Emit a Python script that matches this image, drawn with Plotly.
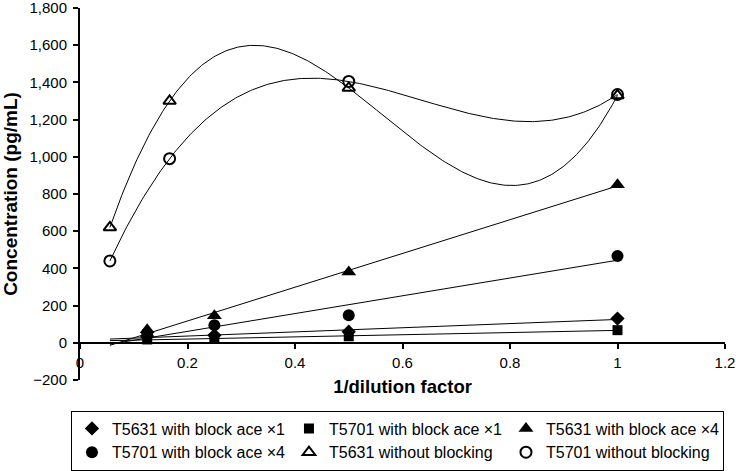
import numpy as np
import plotly.graph_objects as go

# ---- data ----
x_block = [0.125, 0.25, 0.5, 1.0]
t5631_x1 = [35, 40, 60, 130]
t5701_x1 = [18, 22, 35, 68]
t5631_x4 = [70, 145, 380, 850]
t5701_x4 = [50, 95, 148, 467]

x_free = [0.0556, 0.1667, 0.5, 1.0]
t5631_free = [620, 1300, 1370, 1330]
t5701_free = [440, 990, 1405, 1335]

y_ticks = [-200, 0, 200, 400, 600, 800, 1000, 1200, 1400, 1600, 1800]

names = ["T5631 with block ace \u00d71", "T5701 with block ace \u00d71",
         "T5631 with block ace \u00d74", "T5701 with block ace \u00d74",
         "T5631 without blocking", "T5701 without blocking"]

FONT = "Liberation Sans, Arial, sans-serif"
fig = go.Figure()

xmin = min(x_free)
# linear trendlines for blocked series
for ys in [t5631_x1, t5701_x1, t5631_x4, t5701_x4]:
    c = np.polyfit(x_block, ys, 1)
    xs = np.array([xmin, 1.0])
    fig.add_trace(go.Scatter(x=xs, y=np.polyval(c, xs), mode="lines",
                             line=dict(color="black", width=1), showlegend=False,
                             hoverinfo="skip"))
# cubic trendlines for unblocked series
for ys in [t5631_free, t5701_free]:
    c = np.polyfit(x_free, ys, 3)
    xs = np.linspace(xmin, 1.0, 300)
    fig.add_trace(go.Scatter(x=xs, y=np.polyval(c, xs), mode="lines",
                             line=dict(color="black", width=1), showlegend=False,
                             hoverinfo="skip"))

specs = [
    (x_block, t5631_x1, "diamond", 11, 0),
    (x_block, t5701_x1, "square", 10, 0),
    (x_block, t5631_x4, "triangle-up", 13, 0),
    (x_block, t5701_x4, "circle", 12, 0),
    (x_free, t5631_free, "triangle-up-open", 11, 2),
    (x_free, t5701_free, "circle-open", 11, 2),
]
for (xs, ys, sym, sz, lw), nm in zip(specs, names):
    fig.add_trace(go.Scatter(x=xs, y=ys, mode="markers", name=nm,
                             marker=dict(symbol=sym, size=sz, color="black",
                                         line=dict(color="black", width=lw))))

fig.update_layout(
    width=736, height=471,
    margin=dict(l=80, r=11, t=8, b=91, autoexpand=False),
    paper_bgcolor="white", plot_bgcolor="white",
    font=dict(family=FONT, size=15, color="black"),
    showlegend=True,
    legend=dict(orientation="h", x=-0.014, y=-0.082, xanchor="left", yanchor="top",
                bordercolor="black", borderwidth=1, font=dict(size=16),
                entrywidth=172, itemwidth=30, tracegroupgap=0),
    xaxis=dict(range=[0, 1.2], dtick=0.2, tick0=0, showgrid=False, zeroline=False,
               showline=True, linecolor="black", linewidth=2,
               ticks="outside", ticklen=5, tickwidth=1.5, tickcolor="black",
               ticklabelstandoff=1, ticklabeloverflow="allow",
               anchor="free", position=0.1,
               title=dict(text="<b>1/dilution factor</b>", font=dict(size=18.5), standoff=9)),
    yaxis=dict(range=[-200, 1800], tickmode="array", tickvals=y_ticks, tickformat=",",
               showgrid=False,
               zeroline=False, showline=True, linecolor="black", linewidth=2,
               ticks="outside", ticklen=5, tickwidth=1.5, tickcolor="black",
               ticklabelstandoff=3, ticklabeloverflow="allow",
               title=dict(text="<b>Concentration (pg/mL)</b>", font=dict(size=19), standoff=10)),
)

fig.write_html("out.html", config={"displayModeBar": False},
               post_script="document.body.style.margin='0px';")
